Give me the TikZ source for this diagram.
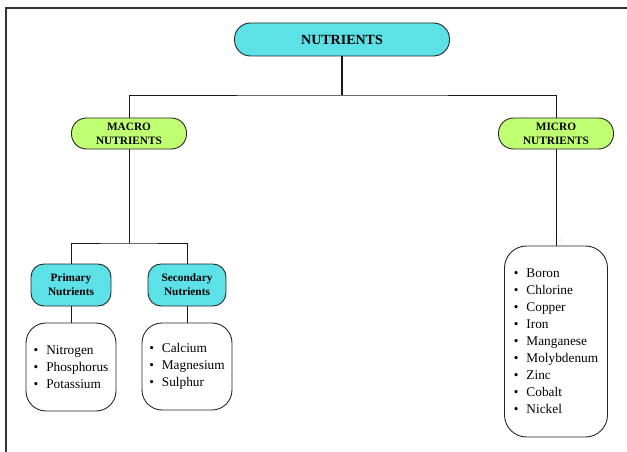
\documentclass[tikz,border=0pt]{standalone}
\usepackage{fontspec}
\setmainfont{Liberation Serif}
\definecolor{cyanfill}{HTML}{5CE1E6}
\definecolor{greenfill}{HTML}{C1FF72}
\begin{document}
\begin{tikzpicture}[x=1pt,y=-1pt,
  box/.style={draw=black!85, line width=0.9pt, inner sep=0pt, align=center},
  cyanbox/.style={box, fill=cyanfill},
  greenbox/.style={box, fill=greenfill},
  listbox/.style={box, fill=white, rounded corners=20pt, align=left,
    font=\fontsize{13.3}{17}\selectfont},
  conn/.style={draw=black!90, line width=0.9pt},
  lab/.style={font=\bfseries\fontsize{11.3}{14}\selectfont}]
\useasboundingbox (0,0) rectangle (627,452);
\draw[line width=1.5pt, black!80] (6,452) -- (6,8) -- (627,8);

% top
\node[cyanbox, minimum width=215pt, minimum height=33pt, rounded corners=16pt,
  font=\bfseries\fontsize{14}{16}\selectfont] (top) at (342,39.5) {NUTRIENTS};
\node[greenbox, lab, minimum width=115pt, minimum height=31pt, rounded corners=15pt]
  (macro) at (129,133.5) {MACRO\\NUTRIENTS};
\node[greenbox, lab, minimum width=115pt, minimum height=31pt, rounded corners=15pt]
  (micro) at (556,133.5) {MICRO\\NUTRIENTS};

% second level
\node[cyanbox, lab, minimum width=80pt, minimum height=42pt, rounded corners=13pt]
  (prim) at (71,285) {Primary\\Nutrients};
\node[cyanbox, lab, minimum width=78pt, minimum height=42pt, rounded corners=13pt]
  (sec) at (187,285) {Secondary\\Nutrients};

% lists
\node[listbox, minimum width=90pt, minimum height=88pt] (l1) at (71,367)
  {\textbullet\hspace{8pt}Nitrogen\\\textbullet\hspace{8pt}Phosphorus\\\textbullet\hspace{8pt}Potassium};
\node[listbox, minimum width=90pt, minimum height=87pt] (l2) at (187,366.5)
  {\textbullet\hspace{8pt}Calcium\\\textbullet\hspace{8pt}Magnesium\\\textbullet\hspace{8pt}Sulphur};
\node[listbox, minimum width=103pt, minimum height=191pt, rounded corners=22pt] (l3) at (556,341.5)
  {\textbullet\hspace{8pt}Boron\\\textbullet\hspace{8pt}Chlorine\\\textbullet\hspace{8pt}Copper\\
   \textbullet\hspace{8pt}Iron\\\textbullet\hspace{8pt}Manganese\\\textbullet\hspace{8pt}Molybdenum\\
   \textbullet\hspace{8pt}Zinc\\\textbullet\hspace{8pt}Cobalt\\\textbullet\hspace{8pt}Nickel};

% junctions
\coordinate (j1) at (342,95);
\coordinate (j2) at (129,243);

% connectors
\draw[conn, line width=1.8pt] (top.south) -- (j1);
\draw[conn] (macro.north) |- (j1) -| (micro.north);
\draw[conn] (macro.south) -- (j2);
\draw[conn] (prim.north) |- (j2) -| (sec.north);
\draw[conn] (prim.south) -- (l1.north);
\draw[conn] (sec.south) -- (l2.north);
\draw[conn] (micro.south) -- (l3.north);
\fill[black!60] (560,240) circle (0.5pt);
\end{tikzpicture}
\end{document}
